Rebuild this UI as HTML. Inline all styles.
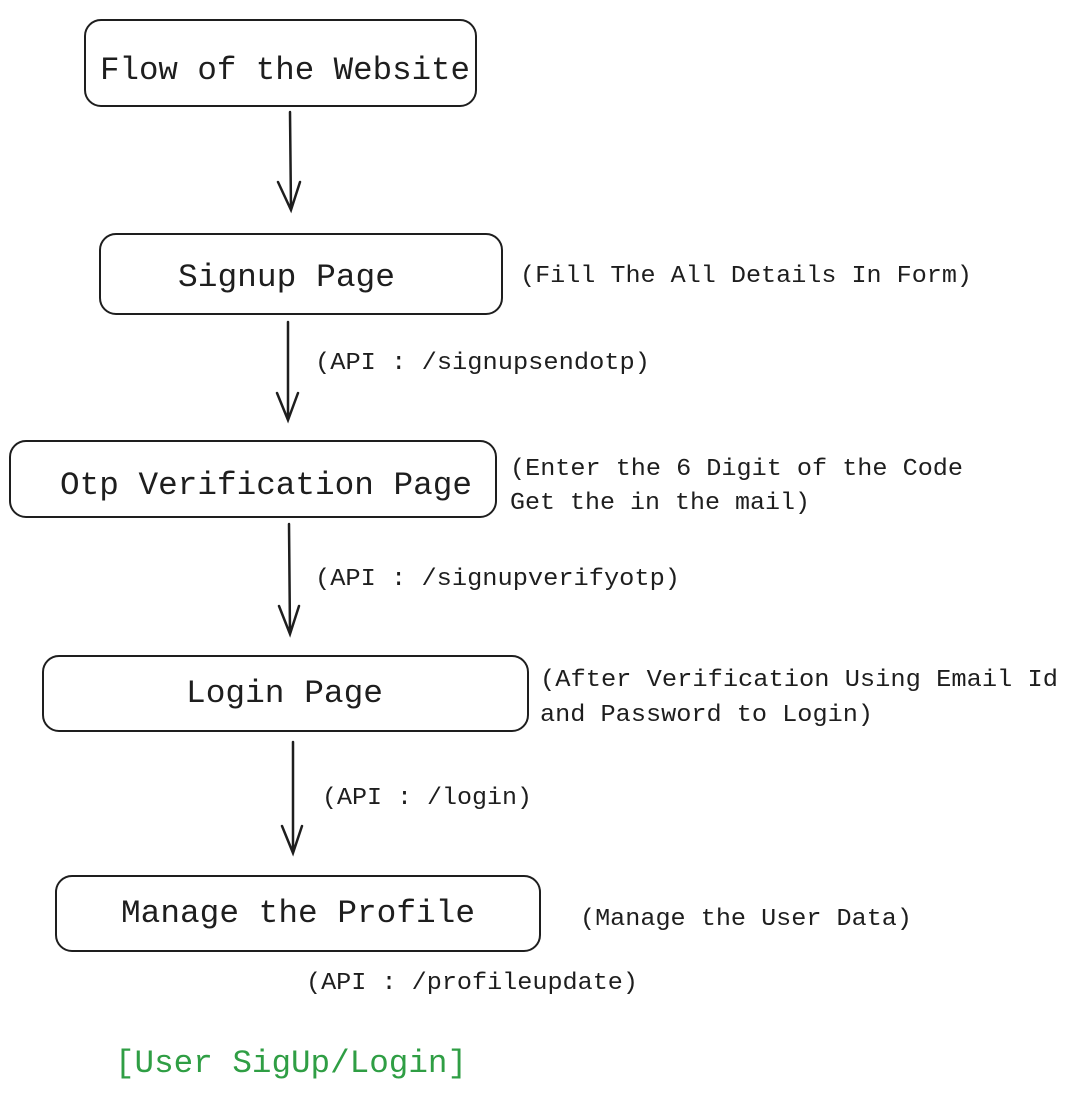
<!DOCTYPE html>
<html><head><meta charset="utf-8"><style>
html,body{margin:0;padding:0;background:#fff;}
svg{display:block}
text{font-family:"Liberation Mono",monospace;fill:#1e1e1e;}
</style></head><body>
<svg width="1071" height="1095" viewBox="0 0 1071 1095" xmlns="http://www.w3.org/2000/svg">
<g fill="none" stroke="#1e1e1e" stroke-width="2" stroke-linecap="round">
<rect x="85" y="20" width="391" height="86" rx="16"/>
<rect x="100" y="234" width="402" height="80" rx="16"/>
<rect x="10" y="441" width="486" height="76" rx="16"/>
<rect x="43" y="656" width="485" height="75" rx="16"/>
<rect x="56" y="876" width="484" height="75" rx="16"/>
<g stroke-width="2.5">
<path d="M290 112 L291 210 M278 182 L291 210 L300 182"/>
<path d="M288 322 L288 420 M277 393 L288 420 L298 393"/>
<path d="M289 524 L290 634 M279 606 L290 634 L299 606"/>
<path d="M293 742 L293 853 M282 826 L293 853 L302 826"/>
</g>
</g>
<g font-size="32">
<text x="100" y="79" textLength="370" lengthAdjust="spacingAndGlyphs">Flow of the Website</text>
<text x="178" y="286" textLength="217" lengthAdjust="spacingAndGlyphs">Signup Page</text>
<text x="60" y="494" textLength="412" lengthAdjust="spacingAndGlyphs">Otp Verification Page</text>
<text x="186" y="702" textLength="197" lengthAdjust="spacingAndGlyphs">Login Page</text>
<text x="121" y="922" textLength="354" lengthAdjust="spacingAndGlyphs">Manage the Profile</text>
<text x="115" y="1072" textLength="352" lengthAdjust="spacingAndGlyphs" style="fill:#2f9e44">[User SigUp/Login]</text>
</g>
<g font-size="24">
<text x="520" y="282" textLength="452" lengthAdjust="spacingAndGlyphs">(Fill The All Details In Form)</text>
<text x="315" y="369" textLength="335" lengthAdjust="spacingAndGlyphs">(API : /signupsendotp)</text>
<text x="510" y="475" textLength="453" lengthAdjust="spacingAndGlyphs">(Enter the 6 Digit of the Code</text>
<text x="510" y="509" textLength="300" lengthAdjust="spacingAndGlyphs">Get the in the mail)</text>
<text x="315" y="585" textLength="365" lengthAdjust="spacingAndGlyphs">(API : /signupverifyotp)</text>
<text x="540" y="686" textLength="518" lengthAdjust="spacingAndGlyphs">(After Verification Using Email Id</text>
<text x="540" y="721" textLength="333" lengthAdjust="spacingAndGlyphs">and Password to Login)</text>
<text x="322" y="804" textLength="210" lengthAdjust="spacingAndGlyphs">(API : /login)</text>
<text x="580" y="925" textLength="332" lengthAdjust="spacingAndGlyphs">(Manage the User Data)</text>
<text x="306" y="989" textLength="332" lengthAdjust="spacingAndGlyphs">(API : /profileupdate)</text>
</g>
</svg>
</body></html>
